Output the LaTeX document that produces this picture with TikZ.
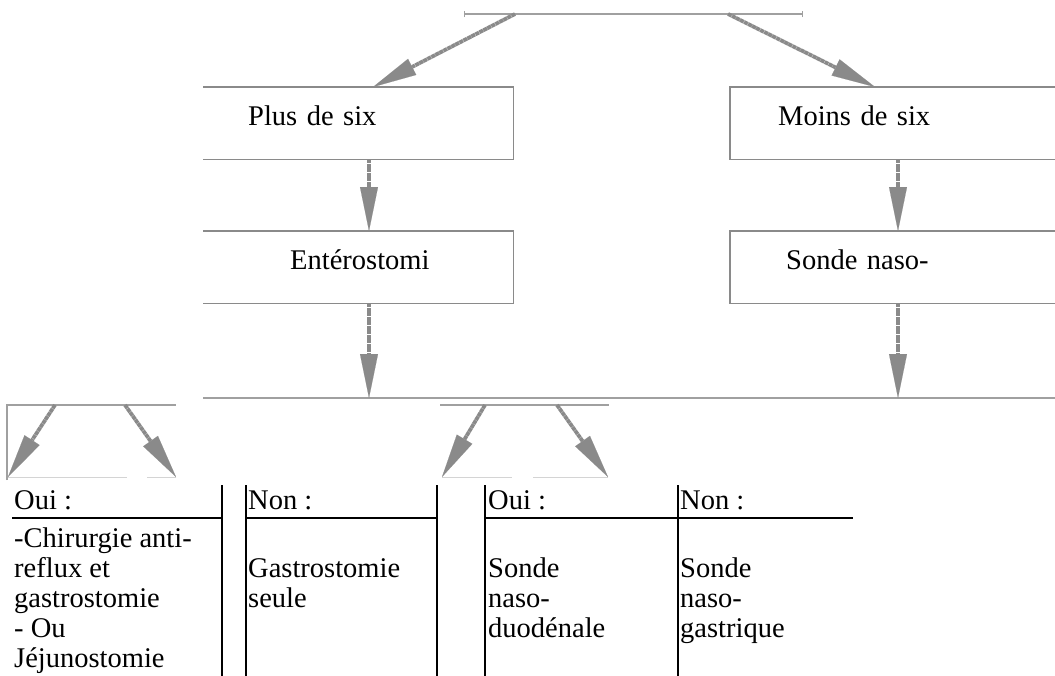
\documentclass[tikz,border=0pt]{standalone}
\usepackage{fontspec}
\setmainfont{Liberation Serif}
\usetikzlibrary{arrows.meta}
\definecolor{arrgray}{HTML}{8A8A8A}
\definecolor{bargray}{HTML}{A0A0A0}
\definecolor{faintgray}{HTML}{D4D4D4}
\begin{document}
\begin{tikzpicture}[x=1pt,y=-1pt,
  box/.style={rectangle, inner sep=0pt, text height=38pt, text depth=34pt, align=left, anchor=north west, font=\fontsize{28.5}{30}\selectfont},
  bd/.style={draw=arrgray, line width=1.5pt},
  bar/.style={draw=bargray, line width=1.6pt},
  faint/.style={draw=faintgray, line width=1pt},
  arr/.style={draw=arrgray, line width=3.8pt, dash pattern=on 4pt off 0.5pt, -{Triangle[length=44pt,width=18pt,line width=0.1pt]}},
  tl/.style={draw=black, line width=2pt},
  txt/.style={inner sep=0pt, font=\fontsize{28.5}{30}\selectfont, align=left}]
\useasboundingbox (0,0) rectangle (1055,675);
\fill[white] (0,0) rectangle (1055,675);

% boxes
\node[box, text width=310pt] (plus) at (203,87) {\noindent\hspace*{45pt}Plus de six};
\node[box, text width=325pt] (moins) at (730,87) {\noindent\hspace*{48pt}Moins de six};
\node[box, text width=310pt] (ent) at (203,231) {\noindent\hspace*{87pt}Entérostomi};
\node[box, text width=325pt] (sonde) at (730,231) {\noindent\hspace*{56pt}Sonde naso-};

\draw[bd] (plus.north west) -- (plus.north east) -- (plus.south east) -- (plus.south west);
\draw[bd] (ent.north west) -- (ent.north east) -- (ent.south east) -- (ent.south west);
\draw[bd] (moins.north east) -- (moins.north west) -- (moins.south west) -- (moins.south east);
\draw[bd] (sonde.north east) -- (sonde.north west) -- (sonde.south west) -- (sonde.south east);

% top bar
\coordinate (topL) at (464,14);
\coordinate (topR) at (802,14);
\coordinate (t1) at (515,14);
\coordinate (t2) at (728,14);
\draw[bar] (topL) -- (topR);
\draw[bar, line width=1pt] ([yshift=-3pt]topL) -- ([yshift=3pt]topL);
\draw[bar, line width=1pt] ([yshift=-3pt]topR) -- ([yshift=3pt]topR);
\draw[arr] (t1) -- ([xshift=170pt]plus.north west);
\draw[arr] (t2) -- ([xshift=145pt]moins.north west);

% middle arrows
\draw[arr] ([xshift=166pt]plus.south west) -- ([xshift=166pt]ent.north west);
\draw[arr] ([xshift=168pt]moins.south west) -- ([xshift=168pt]sonde.north west);

% bottom bar
\coordinate (barL) at (203,398);
\coordinate (barR) at (1055,398);
\coordinate (b1) at (369,398);
\coordinate (b2) at (898,398);
\draw[bar] (barL) -- (barR);
\draw[arr] ([xshift=166pt]ent.south west) -- (b1);
\draw[arr] ([xshift=168pt]sonde.south west) -- (b2);

% lower left bar
\coordinate (aL) at (7,405);
\coordinate (aR) at (176,405);
\coordinate (aD) at (7,480);
\coordinate (a1) at (55,405);
\coordinate (a1t) at (8,477);
\coordinate (a2) at (125,405);
\coordinate (a2t) at (176,477);
\draw[bar] (aD) -- (aL) -- (aR);
\draw[faint] (8,477) -- (127,477);
\draw[faint] (147,477) -- (176,477);
\draw[arr] (a1) -- (a1t);
\draw[arr] (a2) -- (a2t);

% lower middle bar
\coordinate (cL) at (440,405);
\coordinate (cR) at (609,405);
\coordinate (c1) at (485,405);
\coordinate (c1t) at (442,477);
\coordinate (c2) at (557,405);
\coordinate (c2t) at (608,477);
\draw[bar] (cL) -- (cR);
\draw[faint] (442,477) -- (512,477);
\draw[faint] (533,477) -- (608,477);
\draw[arr] (c1) -- (c1t);
\draw[arr] (c2) -- (c2t);

% table lines
\foreach \xx in {222,246,437,485,678} \draw[tl] (\xx,485) -- (\xx,676);
\draw[tl] (12,518) -- (222,518);
\draw[tl] (246,518) -- (437,518);
\draw[tl] (485,518) -- (853,518);

% table text
\node[txt, anchor=base west] (h1) at (14,509) {Oui :};
\node[txt, anchor=base west] (h2) at (248,509) {Non :};
\node[txt, anchor=base west] (h3) at (488,509) {Oui :};
\node[txt, anchor=base west] (h4) at (680,509) {Non :};
\node[txt, anchor=north west] (c1txt) at (14,528) {-Chirurgie anti-\\reflux et\\gastrostomie\\- Ou\\Jéjunostomie};
\node[txt, anchor=north west] (c2txt) at (248,558) {Gastrostomie\\seule};
\node[txt, anchor=north west] (c3txt) at (488,558) {Sonde\\naso-\\duodénale};
\node[txt, anchor=north west] (c4txt) at (680,558) {Sonde\\naso-\\gastrique};
\end{tikzpicture}
\end{document}
